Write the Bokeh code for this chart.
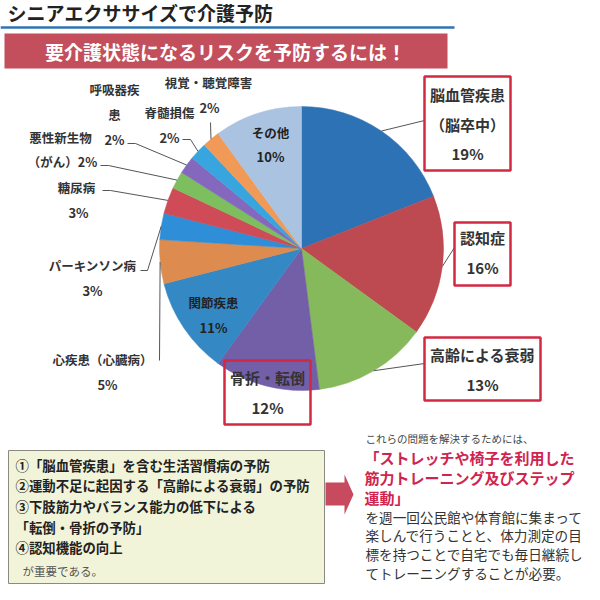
import math
from bokeh.plotting import figure
from bokeh.models import Range1d, ColumnDataSource
from bokeh.core.properties import value
from bokeh.embed import file_html
from bokeh.resources import INLINE

# ---------------- data ----------------
categories = ["脳血管疾患（脳卒中）", "認知症", "高齢による衰弱", "骨折・転倒", "関節疾患",
              "心疾患（心臓病）", "パーキンソン病", "糖尿病", "悪性新生物（がん）", "呼吸器疾患",
              "脊髄損傷", "視覚・聴覚障害", "その他"]
shares = [19, 16, 13, 12, 11, 5, 3, 3, 2, 2, 2, 2, 10]
colors = ["#2C72B4", "#BC4A50", "#86B95B", "#735FA8", "#3488C4", "#DD8B4E", "#2E8FD8",
          "#CE4B57", "#7DBE5E", "#8468BE", "#39A5DE", "#F19A58", "#A9C3E0"]

title = "シニアエクササイズで介護予防"
banner = "要介護状態になるリスクを予防するには！"
box_lines = ["①「脳血管疾患」を含む生活習慣病の予防",
             "②運動不足に起因する「高齢による衰弱」の予防",
             "③下肢筋力やバランス能力の低下による",
             "「転倒・骨折の予防」",
             "④認知機能の向上"]
box_tail = "が重要である。"
right_intro = "これらの問題を解決するためには、"
right_red = ["「ストレッチや椅子を利用した", "筋力トレーニング及びステップ", "運動」"]
right_body = ["を週一回公民館や体育館に集まって", "楽しんで行うことと、体力測定の目",
              "標を持つことで自宅でも毎日継続し", "てトレーニングすることが必要。"]

FONT = "Noto Sans CJK JP"
H = 600  # screen -> data flip


def Y(sy):
    return H - sy


p = figure(width=584, height=584, x_range=Range1d(8, 592), y_range=Range1d(8, 592),
           output_backend="svg", toolbar_location=None, min_border=0,
           x_axis_type=None, y_axis_type=None)
p.grid.visible = False
p.outline_line_color = None
p.background_fill_color = "white"


def txt(x, sy, s, size, color="#333333", align="center", bold=True):
    p.text(x=[x], y=[Y(sy)], text=[s], text_font=value(FONT),
           text_font_size=f"{size}px", text_color=color, text_align=align,
           text_baseline="middle", text_font_style="bold" if bold else "normal")


# ---------------- header ----------------
txt(15, 20, title, 19, color="#222222", align="left")
p.line(x=[8, 462], y=[Y(35), Y(35)], line_color="#2E75B6", line_width=2.5)
p.quad(left=[12], right=[455], top=[Y(41)], bottom=[Y(76)], fill_color="#C34E5C", line_color=None)
txt(233, 58.5, banner, 19, color="white")

# ---------------- pie ----------------
cx, cy, R = 309, Y(256), 142
total = float(sum(shares))
starts, ends, mids = [], [], []
acc = 0.0
for v in shares:
    a0 = acc / total
    acc += v
    a1 = acc / total
    starts.append(math.pi / 2 - 2 * math.pi * a0)
    ends.append(math.pi / 2 - 2 * math.pi * a1)
    mids.append((a0 + a1) / 2)
src = ColumnDataSource(dict(start=starts, end=ends, color=colors, cat=categories))
p.wedge(x=cx, y=cy, radius=R, start_angle="start", end_angle="end", direction="clock",
        fill_color="color", line_color="color", line_width=0.5, source=src)


def edge(i):
    th = 2 * math.pi * mids[i]
    return cx + R * math.sin(th), cy + R * math.cos(th)


# leader lines: (slice index, list of screen-space start points)
leaders = {
    0: [(432, 128)],
    1: [(462, 255)],
    2: [(432, 371)],
    5: [(167, 368)],
    6: [(148, 278), (155, 278)],
    7: [(110, 198), (118, 198)],
    8: [(108, 173), (116, 173)],
    9: [(135, 151), (143, 151)],
    10: [(190, 147), (198, 147)],
    11: [(218, 130)],
}
for i, pts in leaders.items():
    ex, ey = edge(i)
    xs = [pt[0] for pt in pts] + [ex]
    ys = [Y(pt[1]) for pt in pts] + [ey]
    p.line(x=xs, y=ys, line_color="#555555", line_width=1)

# outside / inside labels
lab = "#333333"
txt(216, 90, "視覚・聴覚障害", 12.5, lab)
txt(217, 115, f"{shares[11]}%", 13, lab)
txt(122, 97, "呼吸器疾", 12.5, lab)
txt(122, 122, "患", 12.5, lab)
txt(122, 147, f"{shares[9]}%", 13, lab)
txt(177, 120, "脊髄損傷", 12.5, lab)
txt(177, 145, f"{shares[10]}%", 13, lab)
txt(68, 145, "悪性新生物", 12.5, lab)
txt(70, 169, f"（がん）{shares[8]}%", 12.5, lab)
txt(84, 195, "糖尿病", 12.5, lab)
txt(86, 220, f"{shares[7]}%", 13, lab)
txt(100, 273, "パーキンソン病", 12.5, lab)
txt(100, 298, f"{shares[6]}%", 13, lab)
txt(110, 367, "心疾患（心臓病）", 12.5, lab)
txt(115, 392, f"{shares[5]}%", 13, lab)
txt(221, 310, "関節疾患", 12.5, "#222222")
txt(221, 335, f"{shares[4]}%", 13, "#222222")
txt(278, 140, "その他", 12.5, "#222222")
txt(278, 164, f"{shares[12]}%", 13, "#222222")

# highlighted boxes
RED = "#D42841"
boxes = [(432, 518, 84, 178), (462, 518, 230, 293), (432, 548, 345, 408), (232, 318, 368, 432)]
p.quad(left=[b[0] for b in boxes], right=[b[1] for b in boxes],
       top=[Y(b[2]) for b in boxes], bottom=[Y(b[3]) for b in boxes],
       fill_color=None, line_color=RED, line_width=2.5)
txt(475, 102, "脳血管疾患", 15, lab)
txt(475, 132, "（脳卒中）", 15, lab)
txt(475, 161, f"{shares[0]}%", 15, lab)
txt(490, 245, "認知症", 15, lab)
txt(490, 275, f"{shares[1]}%", 15, lab)
txt(490, 362, "高齢による衰弱", 15, lab)
txt(490, 392, f"{shares[2]}%", 15, lab)
txt(275, 385, "骨折・転倒", 15, lab)
txt(275, 415, f"{shares[3]}%", 15, lab)

# ---------------- bottom left box ----------------
p.quad(left=[16], right=[332], top=[Y(458)], bottom=[Y(591)], fill_color="#F2F4DA",
       line_color="#8A8A80", line_width=1)
for k, s in enumerate(box_lines):
    txt(23, 472 + k * 20.7, s, 13.4, "#222222", align="left")
txt(30, 578, box_tail, 11.5, "#555555", align="left", bold=False)

# arrow
ax = [333, 352, 352, 361, 352, 352, 333]
ay = [Y(490), Y(490), Y(482), Y(502), Y(522), Y(513), Y(513)]
p.patch(x=ax, y=ay, fill_color="#C84A5E", line_color=None)

# ---------------- right text ----------------
txt(373, 446, right_intro, 10.5, "#444444", align="left", bold=False)
for k, s in enumerate(right_red):
    txt(372, 465 + k * 20, s, 15, "#CF2450", align="left")
for k, s in enumerate(right_body):
    txt(373, 524 + k * 18.8, s, 13.6, "#333333", align="left", bold=False)

open("out.html", "w").write(file_html(p, INLINE))
